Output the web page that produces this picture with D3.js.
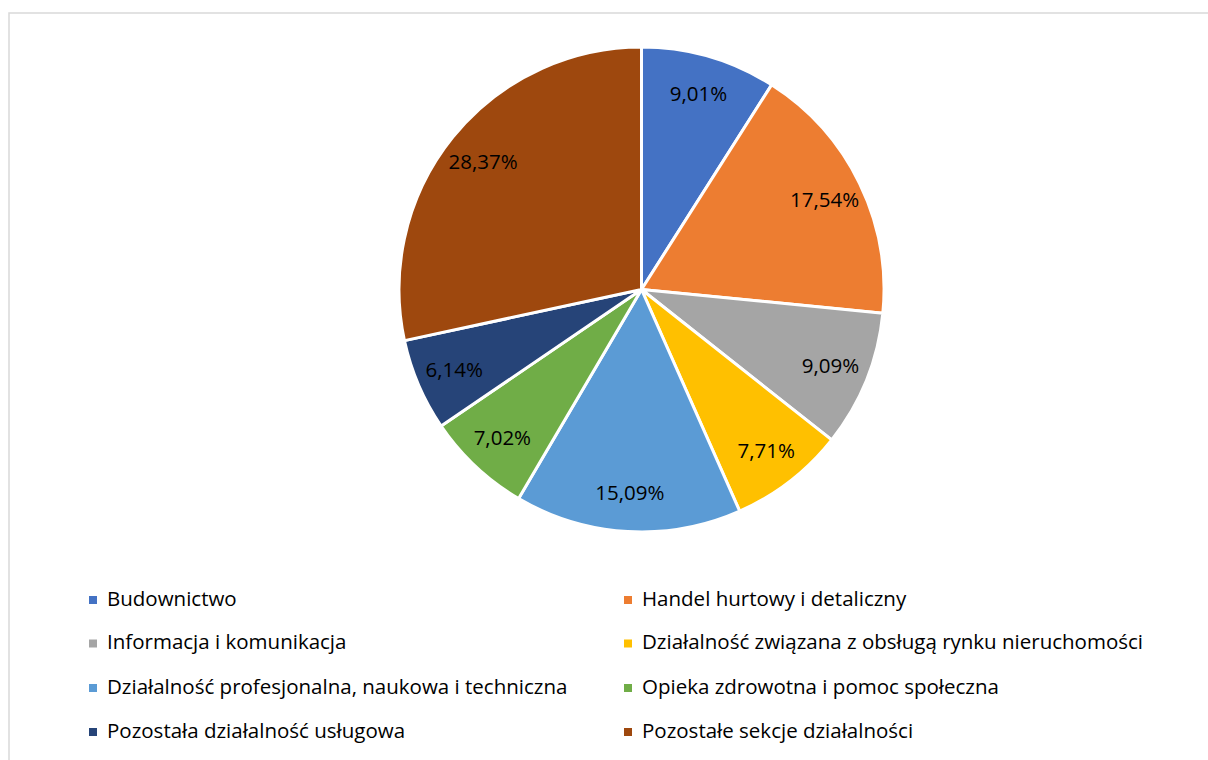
<!DOCTYPE html>
<html>
<head>
<meta charset="utf-8">
<script src="https://cdn.jsdelivr.net/npm/d3@7"></script>
<style>
html,body{margin:0;padding:0;background:#fff;}
svg{display:block;}
text{font-family:"Open Sans","Noto Sans",sans-serif;fill:#000;}
</style>
</head>
<body>
<svg id="chart" width="1208" height="760"></svg>
<script>
const categories = [
  "Budownictwo",
  "Handel hurtowy i detaliczny",
  "Informacja i komunikacja",
  "Działalność związana z obsługą rynku nieruchomości",
  "Działalność profesjonalna, naukowa i techniczna",
  "Opieka zdrowotna i pomoc społeczna",
  "Pozostała działalność usługowa",
  "Pozostałe sekcje działalności"
];
const values = [9.01, 17.54, 9.09, 7.71, 15.09, 7.02, 6.14, 28.37];
const colors = ["#4472C4", "#ED7D31", "#A5A5A5", "#FFC000", "#5B9BD5", "#70AD47", "#264478", "#9E480E"];

const svg = d3.select("#chart");
const W = 1208, H = 760;

// chart border
svg.append("rect")
  .attr("x", 9).attr("y", 13)
  .attr("width", W + 10).attr("height", H + 10)
  .attr("fill", "#fff")
  .attr("stroke", "#d9d9d9").attr("stroke-width", 1.5);

const cx = 641.5, cy = 289.5, R = 242.5;
const fmt = v => d3.format(".2f")(v).replace(".", ",") + "%";

const pie = d3.pie().sort(null).value(d => d)(values);
const arc = d3.arc().innerRadius(0).outerRadius(R);
const labelArc = d3.arc().innerRadius(R * 0.84).outerRadius(R * 0.84);

const g = svg.append("g").attr("transform", `translate(${cx},${cy})`);
g.selectAll("path.slice").data(pie).enter().append("path")
  .attr("class", "slice")
  .attr("d", arc)
  .attr("fill", (d, i) => colors[i])
  .attr("stroke", "#fff")
  .attr("stroke-width", 3)
  .attr("stroke-linejoin", "round");

g.selectAll("text.lbl").data(pie).enter().append("text")
  .attr("class", "lbl")
  .attr("transform", d => `translate(${labelArc.centroid(d)})`)
  .attr("text-anchor", "middle")
  .attr("dy", "0.35em")
  .style("font-size", "20.5px")
  .text(d => fmt(d.data));

// legend
const colX = [89, 624];
const rowY = [600, 643.5, 688, 732];
const leg = svg.append("g");
categories.forEach((c, i) => {
  const x = colX[i % 2], y = rowY[Math.floor(i / 2)];
  leg.append("rect").attr("x", x).attr("y", y - 4).attr("width", 8).attr("height", 8).attr("fill", colors[i]);
  leg.append("text").attr("x", x + 18).attr("y", y + 5.5)
    .style("font-size", "20.5px").text(c);
});
</script>
</body>
</html>
